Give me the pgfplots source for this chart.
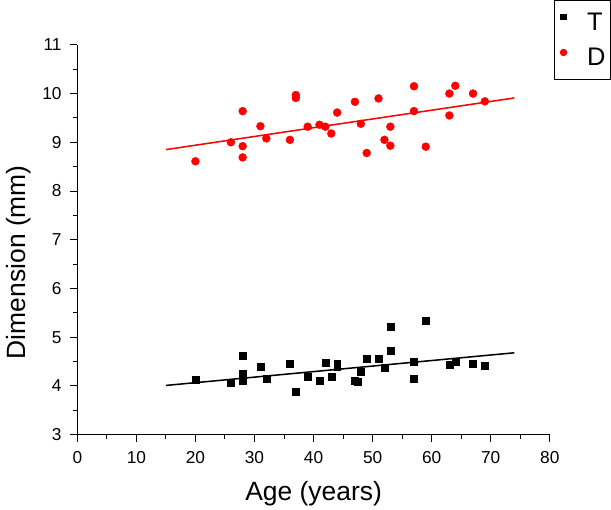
\documentclass[border=0pt]{standalone}
\usepackage{pgfplots}
\pgfplotsset{compat=1.18}
\usepackage{fontspec}
\setmainfont{Liberation Sans}
\begin{document}
\begin{tikzpicture}
\begin{axis}[
  scale only axis, width=463bp, height=382bp,
  xmin=0, xmax=80, ymin=3, ymax=11,
  axis lines=left, axis line style={-, line width=1bp},
  xtick={0,10,...,80}, ytick={3,4,...,11},
  minor x tick num=1, minor y tick num=1,
  tick align=outside,
  major tick length=7bp, minor tick length=4bp,
  tick style={line width=1bp, black},
  ticklabel style={font=\fontsize{17}{19}\selectfont, text=black},
  xticklabel style={yshift=-5.5bp},
  yticklabel style={xshift=-5bp},
  /pgf/number format/assume math mode=true,
  xlabel={Age (years)}, ylabel={Dimension (mm)},
  label style={font=\fontsize{26}{30}\selectfont},
  xlabel style={at={(axis description cs:0.5,0)}, anchor=base, yshift=-65bp},
  ylabel style={at={(axis description cs:0,0.5)}, anchor=base, xshift=-22bp, yshift=51bp, inner ysep=6bp},
  legend style={at={(axis description cs:1.0086,1.115)}, anchor=north west, draw=black, line width=1bp,
    font=\fontsize{25}{28}\selectfont, row sep=12bp, inner xsep=3bp, inner ysep=10bp,
    nodes={inner sep=2bp}},
  legend image code/.code={\path[draw=none, fill=none] (0bp,0bp) rectangle (27bp,10bp); \draw[#1, mark options={scale=0.8}] plot coordinates {(6bp,5bp)};},
  legend cell align=left,
  clip=false,
]
\addplot[only marks, mark=square*, mark size=3.4bp, black] coordinates {
(20,4.12) (26,4.07) (28,4.62) (28,4.26) (28,4.11) (31,4.40) (32,4.14)
(36,4.46) (37,3.88) (39,4.19) (41,4.10) (42,4.47) (43,4.18) (44,4.46) (44,4.40)
(47,4.11) (47.4,4.09) (48,4.29) (49,4.56) (51,4.56) (52,4.37) (53,5.21) (53,4.72)
(57,4.49) (57,4.14) (59,5.34) (63,4.44) (64,4.50) (67,4.46) (69,4.42)
};
\addlegendentry{T}
\addplot[only marks, mark=*, mark size=3.9bp, red, mark options={fill=red, draw=red}] coordinates {
(20,8.61) (26,9.00) (28,9.64) (28,8.92) (28,8.69) (31,9.33) (32,9.08)
(36,9.05) (37,9.97) (37,9.91) (39,9.32) (41,9.36) (42,9.32) (43,9.18) (44,9.61)
(47,9.83) (48,9.38) (49,8.78) (51,9.90) (52,9.05) (53,9.32) (53,8.93)
(57,10.15) (57,9.64) (59,8.91) (63,10.00) (63,9.55) (64,10.16) (67,10.00) (69,9.84)
};
\addlegendentry{D\hspace{12bp}}
\addplot[black, line width=1.5bp, forget plot] coordinates {(15,4.01) (74,4.68)};
\addplot[red, line width=1.5bp, forget plot] coordinates {(15,8.85) (74,9.91)};
\end{axis}
\end{tikzpicture}
\end{document}
